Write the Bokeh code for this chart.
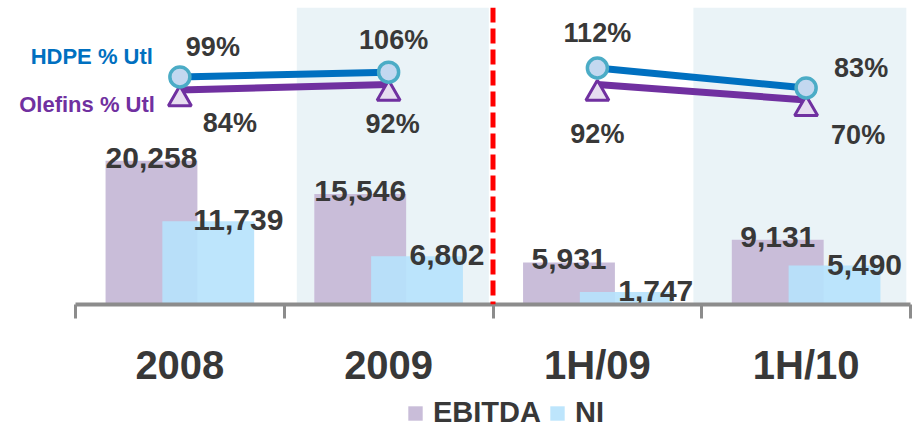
from bokeh.plotting import figure
from bokeh.layouts import column
from bokeh.models import (Range1d, FixedTicker, Span, BoxAnnotation, ColumnDataSource,
                          Legend, LegendItem)
from bokeh.core.properties import value
from bokeh.embed import file_html
from bokeh.resources import INLINE

# ---- data ----
categories = ["2008", "2009", "1H/09", "1H/10"]
ebitda = [20258, 15546, 5931, 9131]
ni = [11739, 6802, 1747, 5490]
hdpe_utl = [99, 106, 112, 83]
olefins_utl = [84, 92, 92, 70]
series_names = ["EBITDA", "NI"]
line_groups = [[0, 1], [2, 3]]  # segments: full years, half years
shaded = [1, 3]
divider_after = 1

FONT = "Liberation Sans"
TEXT = "#383838"
C_EBITDA = "#C9BDD9"
C_NI = "#B6E2FC"

idx = list(range(len(categories)))
xc = [i + 0.5 for i in idx]
n = len(categories)

p = figure(width=912, height=395, x_range=Range1d(-0.3593, n), y_range=Range1d(0, 41830),
           output_backend="svg", toolbar_location=None, y_axis_location=None,
           min_border_left=0, min_border_right=2, min_border_top=7, min_border_bottom=91)
p.outline_line_color = None
p.xgrid.visible = False
p.ygrid.visible = False
p.background_fill_color = "white"

p.extra_y_ranges = {
    "hdpe": Range1d(-232.2, 200.1),
    "olef": Range1d(-221.8, 201.8),
    "olef_mk": Range1d(-209.0, 214.7),
}

# shaded columns
p.add_layout(BoxAnnotation(left=shaded[0] + 0.06, right=shaded[0] + 0.98, fill_color="#EAF3F7",
                           fill_alpha=1, line_color=None, level="underlay"))
p.add_layout(BoxAnnotation(left=shaded[1] - 0.04, right=shaded[1] + 0.98, fill_color="#EAF3F7",
                           fill_alpha=1, line_color=None, level="underlay"))

# bars
off = 0.136
bw = 0.44
src = ColumnDataSource(dict(
    xe=[x - off for x in xc], xn=[x + off for x in xc], ebitda=ebitda, ni=ni,
    le=[f"{v:,}" for v in ebitda], ln=[f"{v:,}" for v in ni]))
p.vbar(x="xe", width=bw, top="ebitda", bottom=0, source=src,
       fill_color=C_EBITDA, line_color=None)
p.vbar(x="xn", width=bw, top="ni", bottom=0, source=src,
       fill_color=C_NI, fill_alpha=0.9, line_color=None)

p.text(x="xe", y="ebitda", text="le", source=src, text_align="center",
       text_baseline="alphabetic", y_offset=-3, text_font=value(FONT),
       text_font_style="bold", text_font_size="30px", text_color=TEXT)
p.text(x="xn", y="ni", text="ln", source=src, text_align="center",
       text_baseline="alphabetic", x_offset=30, y_offset=-1, text_font=value(FONT),
       text_font_style="bold", text_font_size="30px", text_color=TEXT)

# divider
p.add_layout(Span(location=divider_after + 1, dimension="height", line_color="#FF0000",
                  line_width=5, line_dash="15 6"))

# utilisation lines
p.multi_line(xs=[[xc[i] for i in g] for g in line_groups],
             ys=[[olefins_utl[i] for i in g] for g in line_groups],
             line_color="#7030A0", line_width=7, y_range_name="olef")
p.multi_line(xs=[[xc[i] for i in g] for g in line_groups],
             ys=[[hdpe_utl[i] for i in g] for g in line_groups],
             line_color="#0070C0", line_width=7, y_range_name="hdpe")
p.scatter(x=xc, y=olefins_utl, marker="triangle", size=23, fill_color="#E6DDF0",
          line_color="#7030A0", line_width=3, y_range_name="olef_mk")
p.scatter(x=xc, y=hdpe_utl, marker="circle", size=20, fill_color="#C3D8F0",
          line_color="#4BACC6", line_width=3.5, y_range_name="hdpe")

psrc = ColumnDataSource(dict(
    x=xc, h=hdpe_utl, o=olefins_utl,
    ht=[f"{v}%" for v in hdpe_utl], ot=[f"{v}%" for v in olefins_utl],
    hdx=[33, 5, 0, 55], hdy=[-30, -32, -35, -20],
    odx=[50, 4, 0, 52], ody=[33, 40, 50, 35]))
p.text(x="x", y="h", text="ht", source=psrc, x_offset="hdx", y_offset="hdy",
       text_align="center", text_baseline="middle", text_font=value(FONT),
       text_font_style="bold", text_font_size="27px", text_color=TEXT, y_range_name="hdpe")
p.text(x="x", y="o", text="ot", source=psrc, x_offset="odx", y_offset="ody",
       text_align="center", text_baseline="middle", text_font=value(FONT),
       text_font_style="bold", text_font_size="27px", text_color=TEXT, y_range_name="olef")

# series names
p.text(x=[xc[0]], y=[hdpe_utl[0]], text=["HDPE % Utl"], x_offset=-27, y_offset=-20,
       text_align="right", text_baseline="middle", text_font=value(FONT),
       text_font_style="bold", text_font_size="22px", text_color="#0070C0", y_range_name="hdpe")
p.text(x=[xc[0]], y=[olefins_utl[0]], text=["Olefins % Utl"], x_offset=-25, y_offset=14,
       text_align="right", text_baseline="middle", text_font=value(FONT),
       text_font_style="bold", text_font_size="22px", text_color="#7030A0", y_range_name="olef")

# x axis
ax = p.xaxis[0]
ax.bounds = (0, n)
ax.ticker = FixedTicker(ticks=xc, minor_ticks=list(range(n + 1)))
ax.major_label_overrides = {x: c for x, c in zip(xc, categories)}
ax.major_tick_line_color = None
ax.minor_tick_line_color = "#8C8C8C"
ax.minor_tick_line_width = 3
ax.minor_tick_in = 0
ax.minor_tick_out = 14
ax.axis_line_color = "#8C8C8C"
ax.axis_line_width = 4
ax.major_label_standoff = 24
ax.major_label_text_font = FONT
ax.major_label_text_font_style = "bold"
ax.major_label_text_font_size = "40px"
ax.major_label_text_color = TEXT

# legend strip below the chart
pl = figure(width=912, height=34, x_range=Range1d(0, 1), y_range=Range1d(0, 1),
            output_backend="svg", toolbar_location=None, x_axis_location=None,
            y_axis_location=None, min_border_left=0, min_border_right=0,
            min_border_top=0, min_border_bottom=0)
pl.outline_line_color = None
pl.xgrid.visible = False
pl.ygrid.visible = False
le_r = pl.vbar(x=[0], top=[0], bottom=[0], width=0, fill_color=C_EBITDA, line_color=None)
ln_r = pl.vbar(x=[0], top=[0], bottom=[0], width=0, fill_color=C_NI, fill_alpha=0.9,
               line_color=None)
legend = Legend(items=[LegendItem(label=series_names[0], renderers=[le_r]),
                       LegendItem(label=series_names[1], renderers=[ln_r])],
                orientation="horizontal", location=(406, 0),
                border_line_color=None, background_fill_alpha=0,
                glyph_width=18, glyph_height=18, label_standoff=9, spacing=7,
                padding=0, margin=0,
                label_text_font=FONT, label_text_font_style="bold",
                label_text_font_size="29px", label_text_color=TEXT)
pl.add_layout(legend, "center")

open("out.html", "w").write(file_html(column(p, pl, spacing=0), INLINE))
